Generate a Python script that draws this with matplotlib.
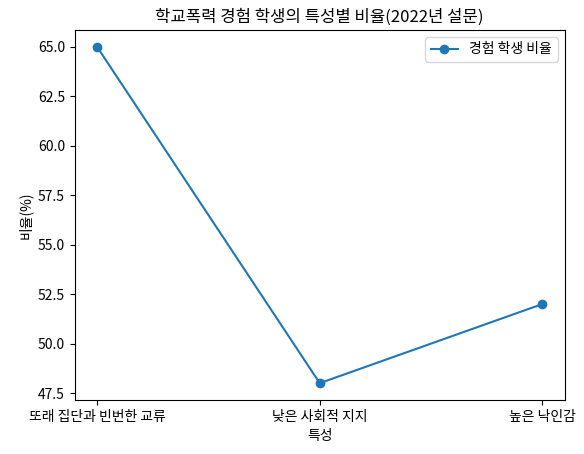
import matplotlib
matplotlib.use("Agg")
import matplotlib.pyplot as plt

plt.rcParams['font.family'] = ['Noto Sans CJK KR', 'DejaVu Sans']

categories = ["또래 집단과 빈번한 교류", "낮은 사회적 지지", "높은 낙인감"]
values = [65, 48, 52]

fig, ax = plt.subplots(figsize=(5.84, 4.54), dpi=100)
ax.plot(categories, values, marker='o', label='경험 학생 비율')
ax.set_title('학교폭력 경험 학생의 특성별 비율(2022년 설문)')
ax.set_xlabel('특성')
ax.set_ylabel('비율(%)')
ax.legend()
fig.subplots_adjust(left=0.128, right=0.967, top=0.934, bottom=0.119)
fig.savefig('out.png')
